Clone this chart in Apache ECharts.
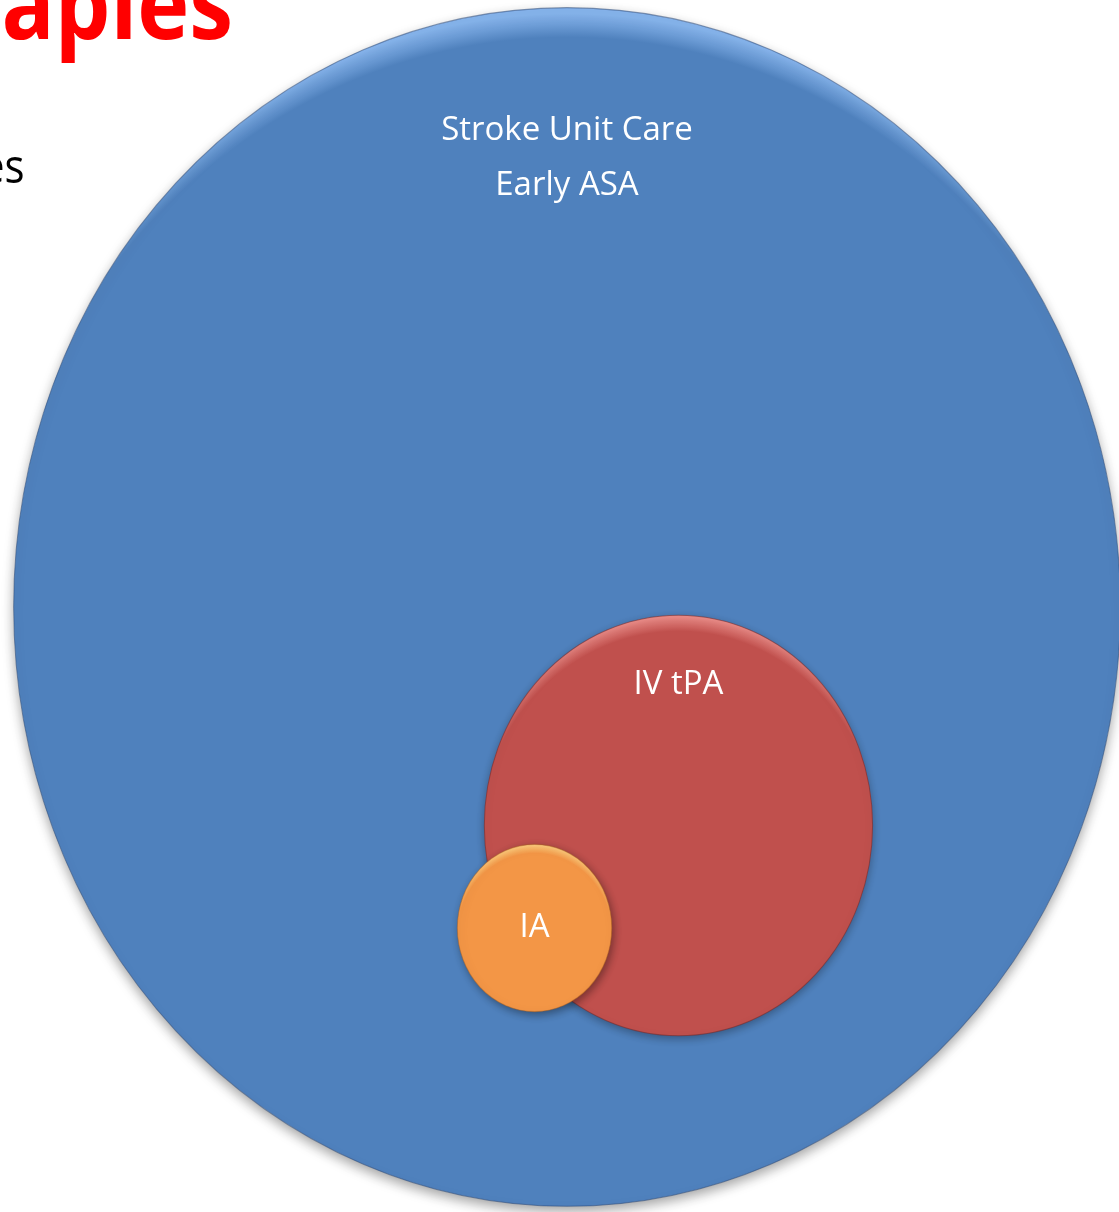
<!DOCTYPE html>
<html>
<head>
<meta charset="utf-8">
<title>Stroke therapies</title>
<script src="https://cdn.jsdelivr.net/npm/echarts@6/dist/echarts.min.js"></script>
<style>
  html, body { margin: 0; padding: 0; background: #ffffff; }
  #chart { width: 1119px; height: 1212px; }
</style>
</head>
<body>
<div id="chart"></div>
<script>
// Nested therapy groups: each bubble placed on a 0–100 grid, diameter in grid units
const categories = ['Stroke Unit Care\nEarly ASA', 'IV tPA', 'IA'];
const centerX = [50.67, 60.63, 47.77];
const centerY = [50.08, 68.11, 76.57];
const diameter = [98.9, 34.7, 13.8];

// Appearance of each bubble (base colour, rim highlight, outline, shadow, label placement)
const looks = [
  { base: '#4F81BD', rim: '#86B4EC', rimStart: 0.955, edge: 'rgba(45,75,120,0.55)', shadow: 'rgba(0,0,0,0.35)', blur: 12, dx: 0, dy: 5, label: -0.749 },
  { base: '#C0504D', rim: '#E88985', rimStart: 0.93, edge: 'rgba(120,40,38,0.55)', shadow: 'rgba(0,0,0,0.30)', blur: 8, dx: 0, dy: 3, label: -0.669 },
  { base: '#F39646', rim: '#FCCB7C', rimStart: 0.9, edge: 'rgba(170,95,30,0.45)', shadow: 'rgba(0,0,0,0.38)', blur: 8, dx: 2, dy: 3, label: 0 }
];

const seriesData = categories.map((name, i) => ({ name, value: [centerX[i], centerY[i], diameter[i]] }));

function bubbleFill(look) {
  return {
    type: 'radial', x: 0.5, y: 0.56, r: 0.56,
    colorStops: [
      { offset: 0, color: look.base },
      { offset: look.rimStart, color: look.base },
      { offset: 0.99, color: look.rim },
      { offset: 1, color: look.rim }
    ]
  };
}

const chart = echarts.init(document.getElementById('chart'), null, { renderer: 'canvas' });

chart.setOption({
  animation: false,
  backgroundColor: '#ffffff',
  grid: { left: 0, right: 0, top: 0, bottom: 0 },
  xAxis: { type: 'value', min: 0, max: 100, show: false },
  yAxis: { type: 'value', min: 0, max: 100, inverse: true, show: false },
  graphic: [
    {
      type: 'text', x: 233, y: -38, scaleY: 1.12, z: 10,
      style: { text: 'rapies', fill: '#FF0000', font: 'bold 88px "Open Sans", sans-serif', align: 'right', verticalAlign: 'top' }
    },
    {
      type: 'text', x: -19, y: 145, scaleY: 1.15, z: 10,
      style: { text: 'es', fill: '#000000', font: '42px "Open Sans", sans-serif', align: 'left', verticalAlign: 'top' }
    }
  ],
  series: [{
    type: 'custom',
    coordinateSystem: 'cartesian2d',
    data: seriesData,
    renderItem: function (params, api) {
      const i = params.dataIndex;
      const look = looks[i];
      const c = api.coord([api.value(0), api.value(1)]);
      const d = api.value(2);
      const sz = api.size([d, d]);
      const rx = sz[0] / 2, ry = sz[1] / 2;
      return {
        type: 'group',
        children: [
          {
            type: 'circle',
            x: c[0], y: c[1], scaleY: ry / rx,
            shape: { cx: 0, cy: 0, r: rx },
            style: {
              fill: bubbleFill(look),
              stroke: look.edge, lineWidth: 1,
              shadowBlur: look.blur, shadowColor: look.shadow,
              shadowOffsetX: look.dx, shadowOffsetY: look.dy
            }
          },
          {
            type: 'text',
            x: c[0], y: c[1] + ry * look.label,
            style: {
              text: categories[i], fill: '#ffffff',
              font: '33px "Open Sans", sans-serif',
              align: 'center', verticalAlign: 'middle', lineHeight: 55
            }
          }
        ]
      };
    }
  }]
});
</script>
</body>
</html>
